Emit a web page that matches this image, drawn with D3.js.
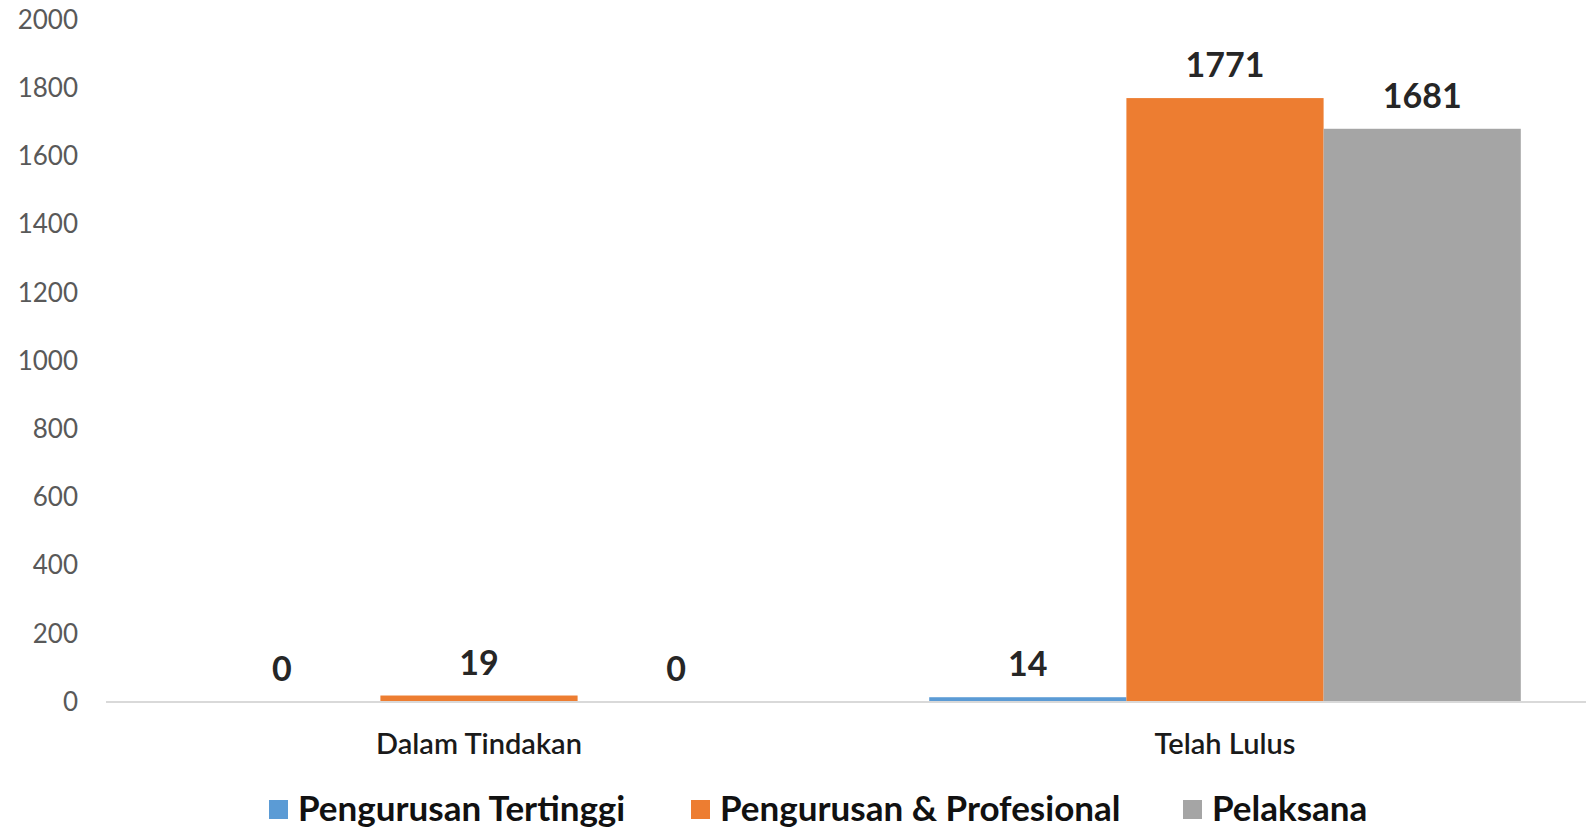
<!DOCTYPE html>
<html>
<head>
<meta charset="utf-8">
<script src="https://cdn.jsdelivr.net/npm/d3@7"></script>
<style>
  html, body { margin: 0; padding: 0; background: #fff; }
  svg { display: block; font-family: Lato, "Open Sans", sans-serif; }
</style>
</head>
<body>
<div id="chart"></div>
<script>
// Data
const categories = ["Dalam Tindakan", "Telah Lulus"];
const series = ["Pengurusan Tertinggi", "Pengurusan & Profesional", "Pelaksana"];
const colors = ["#5B9BD5", "#ED7D31", "#A5A5A5"];
const valuesDalamTindakan = [0, 19, 0];
const valuesTelahLulus = [14, 1771, 1681];
const yTicks = [0, 200, 400, 600, 800, 1000, 1200, 1400, 1600, 1800, 2000];

const width = 1586, height = 829;
const plot = { left: 106, right: 1598, top: 20, bottom: 702 };

const rows = [valuesDalamTindakan, valuesTelahLulus];
const bars = [];
categories.forEach((c, ci) => {
  series.forEach((s, si) => {
    bars.push({ cat: c, series: s, value: rows[ci][si], color: colors[si] });
  });
});

const svg = d3.select("#chart").append("svg")
  .attr("width", width)
  .attr("height", height);

const x0 = d3.scaleBand()
  .domain(categories)
  .range([plot.left, plot.right]);

const bw = x0.bandwidth();
const groupW = bw * 0.793;
const x1 = d3.scaleBand()
  .domain(series)
  .range([(bw - groupW) / 2, (bw + groupW) / 2]);

const y = d3.scaleLinear()
  .domain([0, 2000])
  .range([plot.bottom, plot.top]);

// y axis labels (no line, no ticks)
const yAxis = svg.append("g")
  .attr("transform", `translate(${78},0)`)
  .call(d3.axisLeft(y).tickValues(yTicks).tickFormat(d3.format("d")).tickSize(0).tickPadding(0));
yAxis.select(".domain").remove();
yAxis.selectAll("text")
  .style("font-family", "Lato, sans-serif")
  .style("font-size", "26px")
  .attr("fill", "#595959");

// bars
svg.append("g").selectAll("rect")
  .data(bars)
  .join("rect")
  .attr("x", d => x0(d.cat) + x1(d.series))
  .attr("y", d => y(d.value))
  .attr("width", x1.bandwidth())
  .attr("height", d => y(0) - y(d.value))
  .attr("fill", d => d.color);

// baseline
svg.append("line")
  .attr("x1", plot.left)
  .attr("x2", width)
  .attr("y1", y(0))
  .attr("y2", y(0))
  .attr("stroke", "#d9d9d9")
  .attr("stroke-width", 2);

// data labels
svg.append("g").selectAll("text")
  .data(bars)
  .join("text")
  .attr("x", d => x0(d.cat) + x1(d.series) + x1.bandwidth() / 2)
  .attr("y", d => y(d.value) - 21)
  .attr("text-anchor", "middle")
  .style("font-size", "34px")
  .style("font-weight", "bold")
  .attr("fill", "#262626")
  .text(d => d.value);

// category labels
svg.append("g").selectAll("text")
  .data(categories)
  .join("text")
  .attr("x", d => x0(d) + bw / 2)
  .attr("y", 754)
  .attr("text-anchor", "middle")
  .style("font-size", "29px")
  .style("font-weight", "600")
  .attr("fill", "#1a1a1a")
  .text(d => d);

// legend
const legendX = [269, 691, 1183];
const legend = svg.append("g").selectAll("g")
  .data(series)
  .join("g")
  .attr("transform", (d, i) => `translate(${legendX[i]},809)`);
legend.append("rect")
  .attr("x", 0)
  .attr("y", -9)
  .attr("width", 19)
  .attr("height", 19)
  .attr("fill", (d, i) => colors[i]);
legend.append("text")
  .attr("x", 29)
  .attr("y", 12)
  .style("font-size", "35px")
  .style("font-weight", "bold")
  .attr("fill", "#111")
  .text(d => d);
</script>
</body>
</html>
